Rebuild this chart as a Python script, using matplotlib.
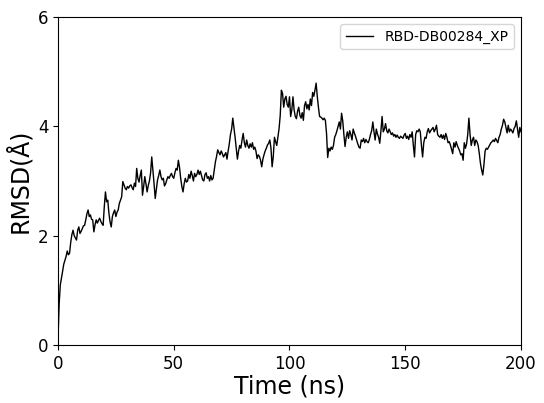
import matplotlib
matplotlib.use("Agg")
import matplotlib.pyplot as plt
import numpy as np

# RMSD (Angstrom), one value every 0.5 ns
# each row covers 5 ns
rmsd = [
    0.10, 0.75, 1.10, 1.22, 1.35, 1.48, 1.55, 1.62, 1.72, 1.65,
    1.68, 1.88, 2.02, 2.10, 2.00, 1.96, 1.92, 2.10, 2.16, 2.04,
    2.08, 2.13, 2.18, 2.19, 2.29, 2.40, 2.47, 2.35, 2.38, 2.30,
    2.29, 2.07, 2.20, 2.29, 2.23, 2.28, 2.32, 2.26, 2.22, 2.19,
    2.53, 2.80, 2.62, 2.65, 2.41, 2.25, 2.16, 2.35, 2.42, 2.47,
    2.35, 2.43, 2.47, 2.59, 2.65, 2.71, 2.99, 2.93, 2.87, 2.84,
    2.90, 2.87, 2.91, 2.93, 2.88, 2.84, 2.96, 2.90, 3.23, 3.05,
    2.98, 3.10, 3.20, 2.74, 2.90, 3.08, 2.95, 2.80, 2.92, 3.00,
    3.15, 3.44, 3.20, 2.95, 2.68, 2.85, 3.02, 3.10, 3.20, 3.08,
    3.02, 3.05, 2.91, 2.95, 3.02, 3.08, 3.05, 3.10, 3.14, 3.08,
    3.05, 3.15, 3.23, 3.20, 3.38, 3.25, 3.05, 2.90, 2.80, 2.95,
    3.05, 2.98, 3.00, 3.12, 3.05, 3.18, 3.10, 3.00, 3.14, 3.08,
    3.12, 3.20, 3.12, 3.18, 3.10, 3.02, 3.00, 3.12, 3.15, 3.05,
    3.08, 3.00, 3.10, 3.02, 3.05, 3.20, 3.35, 3.45, 3.57, 3.52,
    3.48, 3.55, 3.50, 3.44, 3.48, 3.52, 3.40, 3.55, 3.68, 3.85,
    3.95, 4.15, 3.98, 3.80, 3.60, 3.40, 3.55, 3.65, 3.60, 3.75,
    3.87, 3.70, 3.62, 3.75, 3.65, 3.60, 3.68, 3.62, 3.70, 3.58,
    3.62, 3.55, 3.41, 3.48, 3.45, 3.38, 3.26, 3.40, 3.48, 3.55,
    3.60, 3.66, 3.69, 3.75, 3.60, 3.26, 3.45, 3.80, 3.72, 3.65,
    3.80, 3.96, 4.20, 4.66, 4.60, 4.35, 4.50, 4.55, 4.40, 4.35,
    4.54, 4.18, 4.30, 4.54, 4.30, 4.18, 4.14, 4.28, 4.35, 4.20,
    4.15, 4.25, 4.11, 4.38, 4.45, 4.32, 4.40, 4.30, 4.50, 4.38,
    4.62, 4.55, 4.66, 4.79, 4.55, 4.35, 4.18, 4.17, 4.15, 4.12,
    4.15, 4.11, 3.87, 3.43, 3.60, 3.55, 3.62, 3.58, 3.65, 3.80,
    3.85, 3.92, 4.00, 4.08, 3.95, 4.24, 4.10, 3.85, 3.63, 3.80,
    3.90, 3.78, 3.92, 3.85, 3.75, 3.95, 3.88, 3.82, 3.75, 3.68,
    3.62, 3.60, 3.75, 3.72, 3.78, 3.70, 3.76, 3.72, 3.70, 3.76,
    3.85, 3.92, 4.08, 3.90, 3.75, 3.95, 3.86, 3.80, 3.69, 3.92,
    4.18, 3.90, 3.95, 4.05, 3.92, 3.88, 3.95, 3.90, 3.85, 3.88,
    3.82, 3.85, 3.80, 3.84, 3.80, 3.78, 3.82, 3.80, 3.78, 3.84,
    3.87, 3.78, 3.82, 3.76, 3.85, 3.80, 3.90, 3.65, 3.44, 3.85,
    3.92, 3.90, 3.95, 3.90, 3.65, 3.44, 3.70, 3.80, 3.78, 3.90,
    3.96, 3.88, 3.92, 3.95, 3.98, 3.90, 3.95, 4.02, 3.85, 3.82,
    3.80, 3.85, 3.78, 3.84, 3.76, 3.87, 3.80, 3.70, 3.72, 3.66,
    3.58, 3.50, 3.70, 3.62, 3.72, 3.65, 3.60, 3.55, 3.48, 3.50,
    3.38, 3.70, 3.60, 3.68, 3.85, 4.15, 3.85, 3.65, 3.75, 3.80,
    3.65, 3.75, 3.72, 3.65, 3.50, 3.32, 3.20, 3.11, 3.30, 3.55,
    3.60, 3.58, 3.62, 3.66, 3.70, 3.72, 3.75, 3.72, 3.78, 3.74,
    3.70, 3.80, 3.85, 3.95, 4.02, 4.13, 4.08, 3.98, 3.88, 4.02,
    3.90, 3.95, 3.92, 3.88, 3.96, 4.00, 4.10, 3.95, 3.80, 3.98,
    3.90,
]
# time axis (ns)
time_ns = np.arange(len(rmsd)) * 0.5

label = "RBD-DB00284_XP"
x_ticks = [0, 50, 100, 150, 200]
y_ticks = [0, 2, 4, 6]

fig = plt.figure(figsize=(5.44, 4.03), dpi=100)
ax = fig.add_axes([0.1066, 0.1439, 0.8511, 0.8139])
ax.plot(time_ns, rmsd, color="black", linewidth=1.0, label=label)

ax.set_xlim(0, 200)
ax.set_ylim(0, 6)
ax.set_xticks(x_ticks)
ax.set_yticks(y_ticks)
ax.tick_params(labelsize=12)
ax.set_xlabel("Time (ns)", fontsize=17, labelpad=1)
ax.set_ylabel("RMSD(Å)", fontsize=17, labelpad=4)
ax.legend(loc="upper right", fontsize=10)

fig.savefig("out.png", dpi=100)
